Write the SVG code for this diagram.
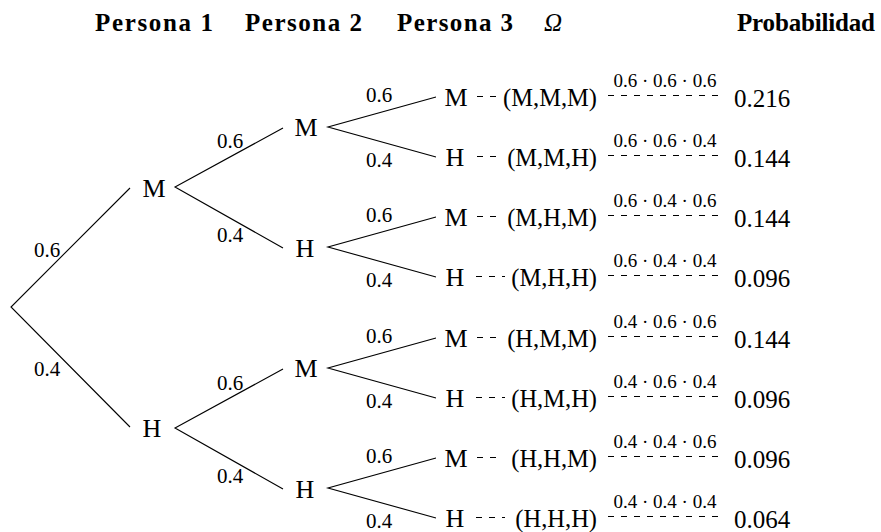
<svg xmlns="http://www.w3.org/2000/svg" width="881" height="532" viewBox="0 0 881 532">
<style>
text{font-family:"Liberation Serif","Times New Roman",serif;fill:#000}
.hd{font-weight:bold;font-size:25px}
.om{font-style:italic;font-size:25px}
.nd{font-size:26px;text-anchor:middle}
.lb{font-size:21px;text-anchor:middle}
.tp{font-size:24.5px;text-anchor:end}
.pr{font-size:19px;text-anchor:middle}
.pv{font-size:25px}
.ln{stroke:#000;stroke-width:1.1;fill:none}
.ds{stroke:#000;stroke-width:1.2;fill:none;stroke-dasharray:6 7}
</style>
<rect width="881" height="532" fill="#fff"/>
<g id="headers">
<text class="hd" x="95" y="31" textLength="118" lengthAdjust="spacing">Persona 1</text>
<text class="hd" x="245" y="31" textLength="117" lengthAdjust="spacing">Persona 2</text>
<text class="hd" x="397" y="31" textLength="116" lengthAdjust="spacing">Persona 3</text>
<text class="om" x="544" y="31">Ω</text>
<text class="hd" x="737" y="31" textLength="138" lengthAdjust="spacing">Probabilidad</text>
</g>
<g id="connectors">
<path class="ln" d="M130,188 L11,307 L130,427"/>
<path class="ln" d="M283,128 L175,187 L283,248"/>
<path class="ln" d="M283,369 L175,428 L283,489"/>
<path class="ln" d="M436,97 L328,127 L436,157"/>
<path class="ln" d="M436,217 L328,247 L436,277"/>
<path class="ln" d="M436,338 L328,368 L436,398"/>
<path class="ln" d="M436,458 L328,488 L436,518"/>
<path class="ds" d="M477,96.5 H496 M477,156.5 H496 M477,216.5 H496 M476,276.5 H505 M477,337.5 H496 M476,397.5 H505 M477,457.5 H496 M476,517.5 H505"/>
<path class="ds" d="M608,95.5 H720 M608,155.5 H720 M608,215.5 H720 M608,275.5 H720 M608,336.5 H720 M608,396.5 H720 M608,456.5 H720 M608,516.5 H720"/>
<g id="edge-labels">
<text class="lb" x="47" y="257">0.6</text>
<text class="lb" x="47" y="376">0.4</text>
<text class="lb" x="230" y="148">0.6</text>
<text class="lb" x="230" y="242">0.4</text>
<text class="lb" x="230" y="390">0.6</text>
<text class="lb" x="230" y="483">0.4</text>
<text class="lb" x="379" y="102">0.6</text>
<text class="lb" x="379" y="167">0.4</text>
<text class="lb" x="379" y="222">0.6</text>
<text class="lb" x="379" y="287">0.4</text>
<text class="lb" x="379" y="343">0.6</text>
<text class="lb" x="379" y="408">0.4</text>
<text class="lb" x="379" y="463">0.6</text>
<text class="lb" x="379" y="528">0.4</text>
</g>
</g>
<g id="p1-M"><text class="nd" x="154" y="197">M</text></g>
<g id="p1-H"><text class="nd" x="152" y="437">H</text></g>
<g id="p2-MM"><text class="nd" x="306" y="136">M</text></g>
<g id="p2-MH"><text class="nd" x="305" y="257">H</text></g>
<g id="p2-HM"><text class="nd" x="306" y="377">M</text></g>
<g id="p2-HH"><text class="nd" x="305" y="498">H</text></g>
<g id="leaf-MMM"><text class="nd" x="456" y="106">M</text><text class="tp" x="597" y="106">(M,M,M)</text><text class="pr" x="665" y="87">0.6 · 0.6 · 0.6</text><text class="pv" x="734" y="107">0.216</text></g>
<g id="leaf-MMH"><text class="nd" x="455" y="166">H</text><text class="tp" x="597" y="166">(M,M,H)</text><text class="pr" x="665" y="147">0.6 · 0.6 · 0.4</text><text class="pv" x="734" y="167">0.144</text></g>
<g id="leaf-MHM"><text class="nd" x="456" y="226">M</text><text class="tp" x="597" y="226">(M,H,M)</text><text class="pr" x="665" y="207">0.6 · 0.4 · 0.6</text><text class="pv" x="734" y="227">0.144</text></g>
<g id="leaf-MHH"><text class="nd" x="455" y="286">H</text><text class="tp" x="597" y="286">(M,H,H)</text><text class="pr" x="665" y="267">0.6 · 0.4 · 0.4</text><text class="pv" x="734" y="287">0.096</text></g>
<g id="leaf-HMM"><text class="nd" x="456" y="347">M</text><text class="tp" x="597" y="347">(H,M,M)</text><text class="pr" x="665" y="328">0.4 · 0.6 · 0.6</text><text class="pv" x="734" y="348">0.144</text></g>
<g id="leaf-HMH"><text class="nd" x="455" y="407">H</text><text class="tp" x="597" y="407">(H,M,H)</text><text class="pr" x="665" y="388">0.4 · 0.6 · 0.4</text><text class="pv" x="734" y="408">0.096</text></g>
<g id="leaf-HHM"><text class="nd" x="456" y="467">M</text><text class="tp" x="597" y="467">(H,H,M)</text><text class="pr" x="665" y="448">0.4 · 0.4 · 0.6</text><text class="pv" x="734" y="468">0.096</text></g>
<g id="leaf-HHH"><text class="nd" x="455" y="527">H</text><text class="tp" x="597" y="527">(H,H,H)</text><text class="pr" x="665" y="508">0.4 · 0.4 · 0.4</text><text class="pv" x="734" y="528">0.064</text></g>
</svg>
